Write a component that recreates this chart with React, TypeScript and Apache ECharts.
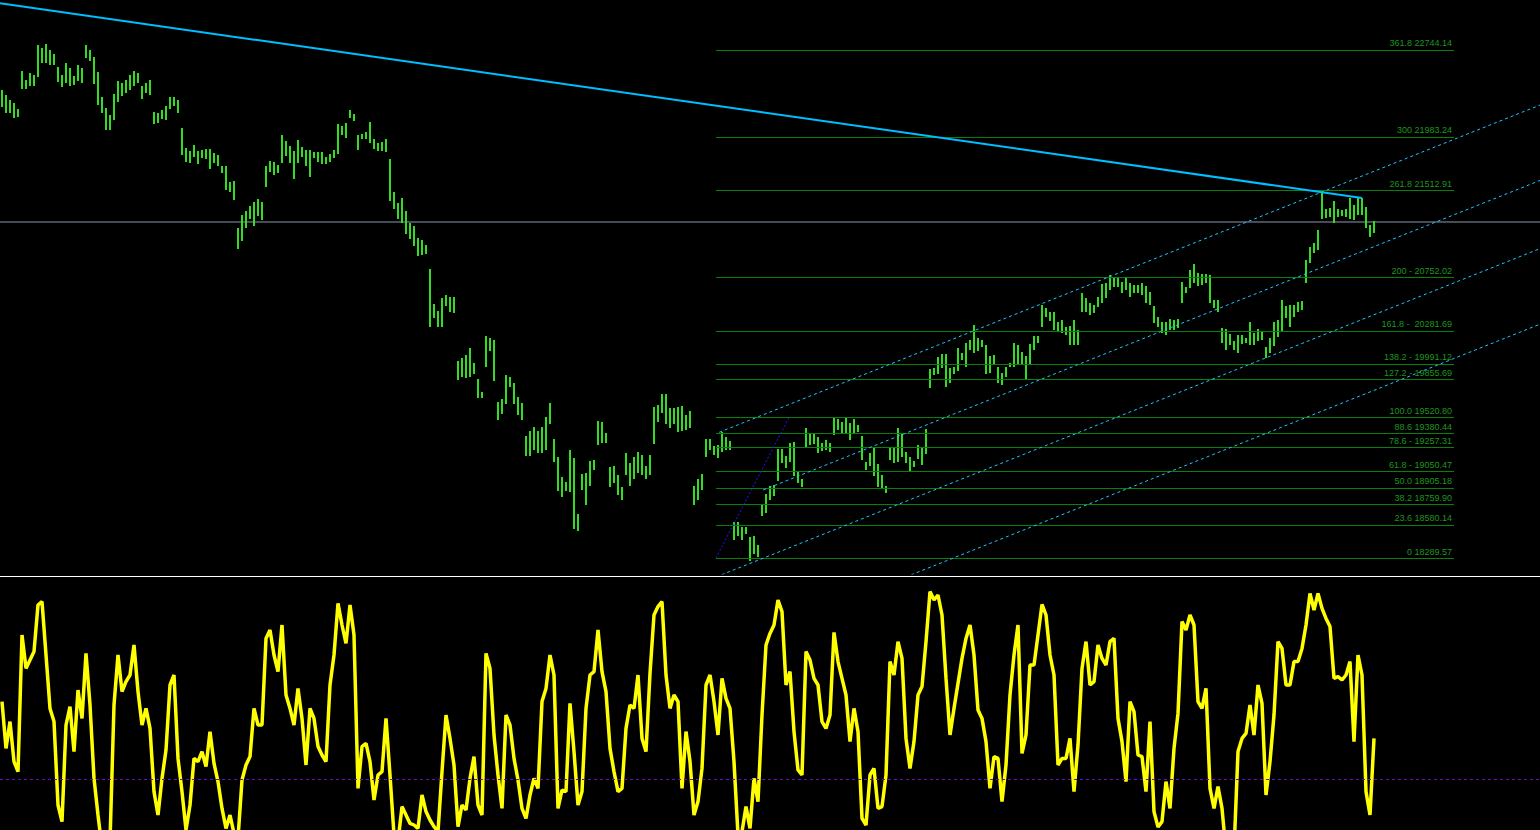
import React, { useEffect, useRef } from 'react';
import * as echarts from 'echarts';

// ---- price bars (one entry per bar slot, prices) ----
const barHigh = [
  22394,22350,22306,22280,22227,22560,22481,22543,22525,22788,
  22762,22797,22744,22709,22595,22525,22630,22587,22516,22613,
  22587,22788,22744,22683,22552,22332,22236,22174,22359,22473,
  22455,22481,22525,22560,22543,22429,22455,22481,22201,22192,
  22218,22253,22332,22332,22306,22060,21885,21859,21911,21859,
  21867,21876,21876,21841,21824,21727,21727,21587,21596,21183,
  21297,21332,21376,21411,21438,21411,21727,21771,21762,21736,
  21999,21946,21903,21859,21955,21894,21867,21867,21850,21850,
  21850,21806,21832,21867,22095,22078,22104,22218,22183,21999,
  22008,22025,22113,21964,21929,21938,21964,21789,21499,21403,
  21446,21332,21227,21201,21096,21078,21034,20824,20517,20455,
  20569,20596,20578,20578,20017,20043,20070,20131,19999,19859,
  19745,20236,20219,20201,19657,19684,19894,19877,19824,19701,
  19649,19359,19403,19438,19403,19438,19526,19649,19333,19175,
  18999,18956,19236,19166,18675,19026,19035,19140,19149,19491,
  19482,19386,19087,19096,19017,18912,19210,19122,19175,19219,
  19193,19096,19193,19614,19631,19728,19728,19605,19605,19614,
  19622,19543,19578,18921,18982,19026,19333,19333,19272,19280,
  19394,19350,19315,18605,18605,18561,18561,18473,18482,18403,
  18754,18851,18921,18930,19245,19245,19184,19298,19307,19052,
  18982,19429,19386,19377,19350,19298,19324,19298,19526,19508,
  19482,19517,19473,19508,19456,19359,19131,19210,19263,19114,
  19017,18921,19263,19254,19429,19386,19219,19175,19140,19280,
  19254,19421,19947,19956,20052,20078,20078,19956,19964,20131,
  20087,20175,20201,20333,20219,20201,20157,20061,20070,19964,
  19912,19964,19999,20175,20157,20096,20061,20166,20236,20236,
  20508,20482,20447,20447,20359,20377,20315,20324,20377,20289,
  20613,20569,20526,20508,20578,20692,20701,20771,20754,20754,
  20710,20754,20701,20684,20684,20701,20675,20622,20499,20403,
  20359,20359,20385,20377,20385,20710,20666,20815,20868,20789,
  20780,20780,20771,20552,20552,20306,20298,20254,20192,20245,
  20245,20219,20359,20263,20298,20271,20140,20219,20359,20377,
  20552,20499,20508,20508,20534,20543,20903,21017,21052,21166,
  21490,21350,21359,21420,21350,21341,21350,21446,21385,21446,
  21446,21368,21210,21245
];
const barLow = [
  22245,22192,22192,22148,22157,22402,22402,22429,22429,22508,
  22630,22630,22613,22613,22464,22420,22455,22429,22438,22473,
  22455,22674,22648,22446,22262,22192,22043,22043,22131,22289,
  22341,22367,22394,22429,22455,22315,22367,22350,22095,22104,
  22139,22131,22227,22253,22192,21824,21762,21753,21806,21745,
  21797,21789,21701,21753,21727,21666,21517,21499,21429,20999,
  21069,21183,21262,21201,21289,21254,21543,21675,21648,21666,
  21753,21815,21753,21613,21753,21806,21727,21631,21797,21762,
  21745,21745,21762,21797,21832,21999,21973,22148,22122,21867,
  21964,21964,21929,21876,21859,21859,21850,21420,21350,21262,
  21227,21131,21087,21026,20938,20947,20955,20315,20394,20315,
  20315,20499,20447,20438,19850,19877,19868,19877,19903,19692,
  19692,19964,20105,19842,19500,19552,19640,19789,19640,19543,
  19500,19184,19184,19236,19210,19210,19236,19464,19131,18877,
  18824,18877,18868,18544,18526,18886,18754,18921,19061,19280,
  19298,19298,18912,18947,18842,18798,19017,18921,18982,19035,
  19017,18982,19017,19289,19482,19561,19464,19429,19464,19394,
  19403,19412,19429,18754,18798,18886,19175,19236,19193,19166,
  19219,19236,19236,18447,18482,18447,18500,18263,18324,18298,
  18658,18684,18798,18833,18965,19122,19079,19131,19008,18947,
  18912,19254,19280,19289,19210,19228,19236,19219,19368,19412,
  19386,19386,19324,19386,19394,19149,19061,19096,19008,18912,
  18903,18859,19149,19122,19131,19175,19122,19044,19087,19158,
  19105,19201,19780,19894,19903,19956,19789,19824,19903,19929,
  20026,19964,20113,20087,20105,20140,19903,19912,19982,19824,
  19807,19877,19964,19964,19982,19982,19850,19982,20113,20175,
  20315,20403,20368,20289,20271,20263,20245,20157,20157,20157,
  20447,20447,20420,20438,20491,20526,20569,20640,20666,20666,
  20613,20640,20578,20613,20613,20596,20526,20508,20350,20315,
  20263,20245,20289,20289,20306,20526,20613,20657,20701,20675,
  20684,20701,20526,20482,20447,20175,20113,20157,20113,20087,
  20166,20175,20157,20157,20192,20201,20043,20087,20149,20227,
  20271,20394,20315,20403,20447,20464,20701,20877,20964,20990,
  21262,21271,21280,21227,21280,21289,21280,21262,21254,21297,
  21297,21183,21104,21140
];

// ---- oscillator (one value per bar slot) ----
const oscValues = [
  38.7,15.3,28.7,8.7,3.7,72,55.3,59.5,63.7,87,
  88.7,62,35.3,28.7,-13,-21.3,27,36.2,13.7,44.5,
  30.3,62.8,37,0.3,-18,-34.7,-36.3,-31.3,37,62,
  43.7,48.7,52,67,43.7,27,35.3,25.3,-6.3,-18,
  0.3,14.5,47,52,10.3,-6.3,-25.5,-13,10.3,8.7,
  13.7,6.2,23.7,7.8,-1.3,-14.7,-24.7,-18,-27.2,-29.7,
  -0.5,7,11.2,35.3,27,27,70.3,74.5,62,53.7,
  77,42,35.3,27,45.3,30.3,7,35.3,30.3,16.2,
  12,8.7,47,62,87.8,77,67.8,87,72,-4.7,
  16.2,17.8,8.7,-10.5,2,3.7,30.3,2,-28,-31.3,
  -13.8,-18,-22.2,-23,-24.7,-8,-16.3,-20.5,-23.8,-26.3,
  3.7,32,20.3,7,-23.8,-13,-15.5,0.3,11.2,-13,
  -18,62.8,55.3,22,2,-14.7,32,27,10.3,-0.5,
  -14.7,-19.7,-8,0.3,-4.7,38.7,45.3,62,52,-14.7,
  -5.5,-6.3,37.8,13.7,-13,-6.3,35.3,52,53.7,74.5,
  53.7,43.7,15.3,3.7,-6.3,-4.7,25.3,37,35.3,52,
  20.3,13.7,52.8,82,86.2,88.7,52,35.3,42,38.7,
  -4.7,23.7,8.7,-18,-11.3,5.3,47,52,38.7,22,
  50.3,40.3,35.3,8.7,-28,-26.3,-13.8,-24.7,0.3,-11.3,
  32,67,72.8,77,89.5,83.7,47,53.7,23.7,4.5,
  2,63.7,59.5,50.3,47,28.7,25.3,32,73.3,58.7,
  50.3,42,18.7,35.3,23.7,-19.7,-23,2,5.3,-14.7,
  -13.8,2,58.7,52,68.7,60.3,20.3,5.3,18.7,42,
  46.2,68.7,93.7,89.5,92,82,50.3,22,35.3,47.8,
  60.3,70.3,77,62,34.5,30.3,18.7,-4.7,11.2,10.3,
  -11.3,7,42,62,77,12.8,22,57,57,72,
  87.3,82,62,52,7,10.3,10.3,20.3,-6.3,17,
  55.3,68.7,47,48.7,67,60.3,57,68.7,70.3,30.3,
  18.7,-1.3,38.7,33.7,12,11.2,-6.3,28.7,-16.3,-24,
  -21.3,-1.3,-14.7,15.3,32.8,78.7,74.5,82,77,38.7,
  35.3,45.3,-4.7,-14.7,-3.8,-14.7,-36.3,-36.3,-36.3,13.7,
  20.3,22.8,37,22,47,37.8,-8,8.7,32,68.7,
  65.3,47,47,58.7,58.7,65.3,77,92.8,84.5,92.8,
  85.3,80.3,76.2,50.3,51.2,49.5,52,58.7,18.7,62,
  52,-6.3,-18,20.3
];
const oscLevel = 0;

// ---- fibonacci expansion ----
const fibLabels = [
  '361.8 22744.14', '300 21983.24', '261.8 21512.91', '200 - 20752.02',
  '161.8 -  20281.69', '138.2 - 19991.12', '127.2 - 19855.69', '100.0 19520.80',
  '88.6 19380.44', '78.6 - 19257.31', '61.8 - 19050.47', '50.0 18905.18',
  '38.2 18759.90', '23.6 18580.14', '0 18289.57'
];
const fibPrices = [
  22744.14, 21983.24, 21512.91, 20752.02, 20281.69, 19991.12, 19855.69, 19520.80,
  19380.44, 19257.31, 19050.47, 18905.18, 18759.90, 18580.14, 18289.57
];
const fibFromSlot = 178.5;
const fibToSlot = 363;
const fibAnchor = [[178.5, 18289.57], [196.75, 19520.80]];

// ---- drawn lines (slot, price) ----
const trendLine = [[-0.5, 23153.7], [340, 21446.35]];
const hLinePrice = 21235.9;
const channelLines = [
  [[179.3, 19391.8], [384.5, 22261.0]],
  [[190.3, 18885.85], [384.5, 21599.8]],
  [[178.5, 18122.96], [384.5, 21002.65]],
  [[224.5, 18102.9], [384.5, 20339.7]]
];

const X_MIN = -0.5;
const X_MAX = 384.5;
const PRICE_MIN = 18149.27;
const PRICE_MAX = 23182.58;
const OSC_MIN = -25.5;
const OSC_MAX = 100.5;

export default function App() {
  const ref = useRef<HTMLDivElement>(null);

  useEffect(() => {
    const chart = echarts.init(ref.current as HTMLDivElement, null, { renderer: 'svg' });
    const bars = barHigh.map((h, i) => [i, barLow[i], h]);
    const osc = oscValues.map((v, i) => [i, v]);

    const plainLine = (data: number[][], color: string, width: number, type: any, z: number) => ({
      type: 'line',
      xAxisIndex: 0,
      yAxisIndex: 0,
      data,
      symbol: 'none',
      silent: true,
      clip: true,
      z,
      lineStyle: { color, width, type },
    });

    chart.setOption({
      animation: false,
      backgroundColor: '#000000',
      grid: [
        { left: 0, right: 0, top: 0, height: 574 },
        { left: 0, right: 0, top: 578, height: 252 },
      ],
      xAxis: [
        { type: 'value', gridIndex: 0, min: X_MIN, max: X_MAX, show: false },
        { type: 'value', gridIndex: 1, min: X_MIN, max: X_MAX, show: false },
      ],
      yAxis: [
        { type: 'value', gridIndex: 0, min: PRICE_MIN, max: PRICE_MAX, show: false },
        { type: 'value', gridIndex: 1, min: OSC_MIN, max: OSC_MAX, show: false },
      ],
      graphic: [
        {
          type: 'rect',
          shape: { x: 0, y: 576, width: 1540, height: 1 },
          style: { fill: '#ffffff' },
          silent: true,
        },
      ],
      series: [
        {
          ...plainLine([[X_MIN, hLinePrice], [X_MAX, hLinePrice]], '#8c9bb0', 1, 'solid', 2),
        },
        {
          ...plainLine(trendLine, '#00bfff', 2, 'solid', 6),
          markLine: {
            silent: true,
            symbol: ['none', 'none'],
            animation: false,
            lineStyle: { color: '#0a800a', width: 1, type: 'solid' },
            label: {
              show: true,
              position: 'insideEndTop',
              distance: 2,
              formatter: (p: any) => fibLabels[p.dataIndex],
              color: '#1e961e',
              fontSize: 9,
              fontFamily: 'Liberation Sans, Arial, sans-serif',
            },
            emphasis: { disabled: true },
            data: fibPrices.map((p) => [
              { coord: [fibFromSlot, p] },
              { coord: [fibToSlot, p] },
            ]),
          },
        },
        ...channelLines.map((d) => plainLine(d, '#1ec8ff', 1, [3, 3], 5)),
        plainLine(fibAnchor, '#1a1aff', 1, [2, 2], 5),
        {
          type: 'custom',
          xAxisIndex: 0,
          yAxisIndex: 0,
          data: bars,
          encode: { x: 0, y: [1, 2] },
          silent: true,
          z: 4,
          renderItem: (params: any, api: any) => {
            const lo = api.coord([api.value(0), api.value(1)]);
            const hi = api.coord([api.value(0), api.value(2)]);
            return {
              type: 'line',
              shape: { x1: lo[0], y1: lo[1], x2: hi[0], y2: hi[1] },
              style: { stroke: '#33dd22', lineWidth: 2 },
            };
          },
        },
        {
          type: 'line',
          xAxisIndex: 1,
          yAxisIndex: 1,
          data: osc,
          symbol: 'none',
          silent: true,
          clip: true,
          z: 4,
          lineStyle: { color: '#ffff00', width: 3.5 },
          markLine: {
            silent: true,
            symbol: ['none', 'none'],
            animation: false,
            label: { show: false },
            emphasis: { disabled: true },
            lineStyle: { color: '#6a0dc0', width: 1, type: [3, 3] },
            data: [{ yAxis: oscLevel }],
          },
        },
      ],
    });

    return () => chart.dispose();
  }, []);

  return (
    <div
      ref={ref}
      style={{ position: 'fixed', left: 0, top: 0, width: 1540, height: 830, background: '#000' }}
    />
  );
}
